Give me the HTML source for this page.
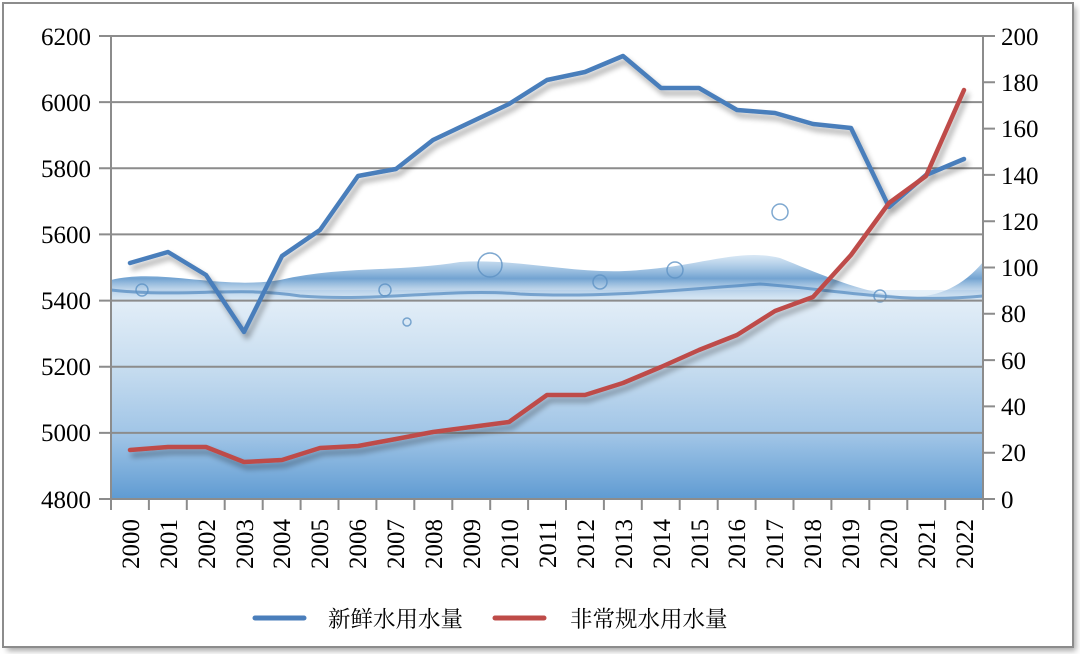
<!DOCTYPE html>
<html><head><meta charset="utf-8"><style>
html,body{margin:0;padding:0;background:#fff;width:1080px;height:654px;overflow:hidden}
svg{display:block}
.n{font-family:"Liberation Serif","Times New Roman","DejaVu Serif",serif}
.c{font-family:"Noto Serif CJK SC","Noto Sans CJK SC",serif}
</style></head><body>
<svg width="1080" height="654" viewBox="0 0 1080 654" xmlns="http://www.w3.org/2000/svg">
<defs>
<linearGradient id="w" x1="0" y1="0" x2="0" y2="1">
<stop offset="0" stop-color="#e6f0f9"/>
<stop offset="0.35" stop-color="#c9def0"/>
<stop offset="0.7" stop-color="#9fc4e6"/>
<stop offset="1" stop-color="#5f9bd2"/>
</linearGradient>
<linearGradient id="s" x1="0" y1="0" x2="0" y2="1">
<stop offset="0" stop-color="#7fb0dc" stop-opacity="0.3"/>
<stop offset="0.5" stop-color="#4f8cc6" stop-opacity="0.8"/>
<stop offset="1" stop-color="#cfe2f2" stop-opacity="0.3"/>
</linearGradient>
<filter id="sh" x="-5%" y="-5%" width="110%" height="120%"><feGaussianBlur in="SourceAlpha" stdDeviation="3"/><feOffset dx="3" dy="5"/><feComponentTransfer><feFuncA type="linear" slope="0.35"/></feComponentTransfer><feMerge><feMergeNode/><feMergeNode in="SourceGraphic"/></feMerge></filter>
<filter id="fs"><feGaussianBlur stdDeviation="3"/></filter>
</defs>
<rect x="7" y="7" width="1069" height="644" fill="#aaa" filter="url(#fs)"/>
<rect x="3" y="3" width="1070" height="644" fill="#fff" stroke="#8c8c8c" stroke-width="2"/>
<rect x="111" y="290" width="872" height="209" fill="url(#w)"/>
<path d="M111 280 C160 268,220 290,280 280 C340 266,400 272,460 262 C520 258,580 276,640 270 C700 266,740 248,780 258 C820 274,860 292,900 296 C930 300,960 290,983 262 L983 302 L111 302 Z" fill="url(#s)"/>
<path d="M111 290 C180 298,240 286,300 296 C380 302,450 288,520 294 C600 298,680 290,760 284 C840 290,900 304,983 296" stroke="#3f7cb8" stroke-width="3" fill="none" opacity="0.6"/>
<g stroke="#5e92c4" fill="none" stroke-width="1.5" opacity="0.8">
<circle cx="490" cy="265" r="12"/><circle cx="675" cy="270" r="8"/><circle cx="600" cy="282" r="7"/><circle cx="385" cy="290" r="6"/><circle cx="142" cy="290" r="6"/><circle cx="780" cy="212" r="8"/><circle cx="407" cy="322" r="4"/><circle cx="880" cy="296" r="6"/>
</g>
<g stroke="#8c8c8c" stroke-width="2">
<line x1="99" y1="36" x2="995" y2="36"/>
<line x1="99" y1="102.1" x2="983" y2="102.1"/>
<line x1="99" y1="168.3" x2="983" y2="168.3"/>
<line x1="99" y1="234.4" x2="983" y2="234.4"/>
<line x1="99" y1="300.6" x2="983" y2="300.6"/>
<line x1="99" y1="366.7" x2="983" y2="366.7"/>
<line x1="99" y1="432.9" x2="983" y2="432.9"/>
<line x1="99" y1="499" x2="995" y2="499"/>
<line x1="111" y1="36" x2="111" y2="510"/>
<line x1="983" y1="36" x2="983" y2="510"/>
<path d="M148.9 499v11M186.8 499v11M224.7 499v11M262.7 499v11M300.6 499v11M338.5 499v11M376.4 499v11M414.3 499v11M452.3 499v11M490.2 499v11M528.1 499v11M566 499v11M603.9 499v11M641.8 499v11M679.7 499v11M717.7 499v11M755.6 499v11M793.5 499v11M831.4 499v11M869.3 499v11M907.3 499v11M945.2 499v11"/>
<path d="M983 82.3h12M983 128.6h12M983 174.9h12M983 221.2h12M983 267.5h12M983 313.8h12M983 360.1h12M983 406.4h12M983 452.7h12"/>
</g>
<g class="n" font-family="Liberation Serif, serif" font-size="25" text-anchor="end">
<text x="91" y="45">6200</text><text x="91" y="111">6000</text><text x="91" y="177">5800</text><text x="91" y="243">5600</text><text x="91" y="309">5400</text><text x="91" y="375">5200</text><text x="91" y="441">5000</text><text x="91" y="508">4800</text>
</g>
<g class="n" font-family="Liberation Serif, serif" font-size="25" text-anchor="start">
<text x="1001" y="45">200</text><text x="1001" y="91">180</text><text x="1001" y="137">160</text><text x="1001" y="184">140</text><text x="1001" y="230">120</text><text x="1001" y="276">100</text><text x="1001" y="322">80</text><text x="1001" y="369">60</text><text x="1001" y="415">40</text><text x="1001" y="461">20</text><text x="1001" y="508">0</text>
</g>
<g class="n" font-family="Liberation Serif, serif" font-size="25" text-anchor="end">
<text transform="translate(139,519) rotate(-90)">2000</text>
<text transform="translate(177,519) rotate(-90)">2001</text>
<text transform="translate(215,519) rotate(-90)">2002</text>
<text transform="translate(253,519) rotate(-90)">2003</text>
<text transform="translate(290,519) rotate(-90)">2004</text>
<text transform="translate(328,519) rotate(-90)">2005</text>
<text transform="translate(366,519) rotate(-90)">2006</text>
<text transform="translate(404,519) rotate(-90)">2007</text>
<text transform="translate(442,519) rotate(-90)">2008</text>
<text transform="translate(480,519) rotate(-90)">2009</text>
<text transform="translate(518,519) rotate(-90)">2010</text>
<text transform="translate(556,519) rotate(-90)">2011</text>
<text transform="translate(594,519) rotate(-90)">2012</text>
<text transform="translate(632,519) rotate(-90)">2013</text>
<text transform="translate(670,519) rotate(-90)">2014</text>
<text transform="translate(708,519) rotate(-90)">2015</text>
<text transform="translate(745,519) rotate(-90)">2016</text>
<text transform="translate(783,519) rotate(-90)">2017</text>
<text transform="translate(821,519) rotate(-90)">2018</text>
<text transform="translate(859,519) rotate(-90)">2019</text>
<text transform="translate(897,519) rotate(-90)">2020</text>
<text transform="translate(935,519) rotate(-90)">2021</text>
<text transform="translate(973,519) rotate(-90)">2022</text>
</g>
<g fill="none" stroke-width="4.5" stroke-linejoin="round" stroke-linecap="round" filter="url(#sh)">
<polyline stroke="#4a7ebb" points="130,263 168,252 206,275 244,332 282,256 320,230 358,176 396,169 433,140 471,122 509,104 547,80 585,72 623,56 661,88 699,88 737,110 775,113 813,124 851,128 889,207 926,175 964,159"/>
<polyline stroke="#be4b48" points="130,450 168,447 206,447 244,462 282,460 320,448 358,446 396,439 433,432 471,427 509,422 547,395 585,395 623,383 661,367 699,350 737,335 775,311 813,297 851,255 889,203 926,176 964,90"/>
</g>
<line x1="255" y1="618" x2="304" y2="618" stroke="#4a7ebb" stroke-width="5" stroke-linecap="round"/>
<text class="c" font-family="Noto Serif CJK SC, serif" x="328" y="627" font-size="22.5">新鲜水用水量</text>
<line x1="495" y1="618" x2="544" y2="618" stroke="#be4b48" stroke-width="5" stroke-linecap="round"/>
<text class="c" font-family="Noto Serif CJK SC, serif" x="570" y="627" font-size="22.5">非常规水用水量</text>
</svg>
</body></html>
